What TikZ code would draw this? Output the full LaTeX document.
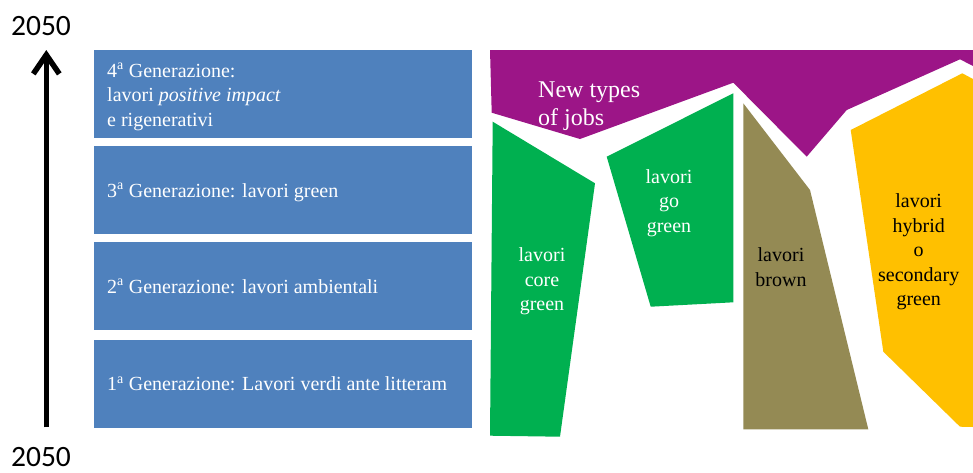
\documentclass[tikz,border=0pt]{standalone}
\usepackage{fontspec}
\setmainfont{Liberation Serif}
\newfontfamily\calib{Carlito}
\usetikzlibrary{arrows.meta}
\definecolor{genblue}{HTML}{4F81BD}
\definecolor{newpurple}{HTML}{9C1587}
\definecolor{coregreen}{HTML}{00B050}
\definecolor{brownjob}{HTML}{948A54}
\definecolor{hybridyellow}{HTML}{FFC000}
\begin{document}
\begin{tikzpicture}[x=1pt,y=-1pt,
  genbox/.style={fill=genblue, draw=none, inner sep=0pt, minimum width=378pt, anchor=north west},
  lbl/.style={inner sep=0pt, font=\fontsize{20}{24.5}\selectfont},
  wlbl/.style={lbl, text=white},
  yearlbl/.style={inner sep=0pt, font=\calib\fontsize{29.5}{32}\selectfont},
  timearrow/.style={line width=5.5pt, -{Straight Barb[length=19pt,width=26pt]}}]
\useasboundingbox (0,0) rectangle (973,472);

% generation boxes
\node[genbox, minimum height=87.5pt] (g4) at (94,50) {};
\node[genbox, minimum height=87.8pt] (g3) at (94,145.8) {};
\node[genbox, minimum height=88.5pt] (g2) at (94,241.7) {};
\node[genbox, minimum height=87.5pt] (g1) at (94,340) {};

\node[wlbl, align=left, anchor=west] (t4) at (107,96.7)
  {4\textsuperscript{a} Generazione:\\lavori \textit{positive impact}\\e rigenerativi};
\node[wlbl, anchor=base west] (t3) at (107,197) {3\textsuperscript{a} Generazione: lavori green};
\node[wlbl, anchor=base west] (t2) at (107,293) {2\textsuperscript{a} Generazione: lavori ambientali};
\node[wlbl, anchor=base west] (t1) at (107,390.7) {1\textsuperscript{a} Generazione: Lavori verdi ante litteram};

% time arrow
\coordinate (abot) at (46.3,427.3);
\coordinate (atop) at (46.3,50);
\draw[timearrow] (abot) -- (atop);
\node[yearlbl, anchor=base] (ytop) at (41,35) {2050};
\node[yearlbl, anchor=base] (ybot) at (41,466.5) {2050};

% shapes
\fill[newpurple] (490,50) -- (973,50) -- (973,66) -- (960,59.3) -- (846.7,110) -- (806.7,156.7)
  -- (733.3,82.7) -- (580,139) -- (491.7,112.7) -- cycle;
\fill[coregreen] (492.7,121.7) -- (595,183.3) -- (560,436.7) -- (490,435.7) -- cycle;
\fill[coregreen] (606.7,156.7) -- (733.3,93.3) -- (733.3,302.3) -- (650.7,306.7) -- cycle;
\fill[brownjob] (743.3,103.3) -- (810,190) -- (868.3,429.3) -- (743.3,429.3) -- cycle;
\fill[hybridyellow] (850.7,130) -- (962.3,73.3) -- (973,79) -- (973,427) -- (960,426.7)
  -- (883.3,351.7) -- cycle;

% labels
\node[inner sep=0pt, text=white, align=left, anchor=west, font=\fontsize{24}{28}\selectfont] (newjobs)
  at (538,106.6) {New types\\of jobs};
\node[wlbl, align=center] (core) at (542,281.5) {lavori\\core\\green};
\node[wlbl, align=center] (go) at (669,202.8) {lavori\\go\\green};
\node[lbl, align=center] (brown) at (781,267.4) {lavori\\brown};
\node[lbl, align=center] (hybrid) at (918.7,251.8) {lavori\\hybrid\\o\\secondary\\green};
\end{tikzpicture}
\end{document}
